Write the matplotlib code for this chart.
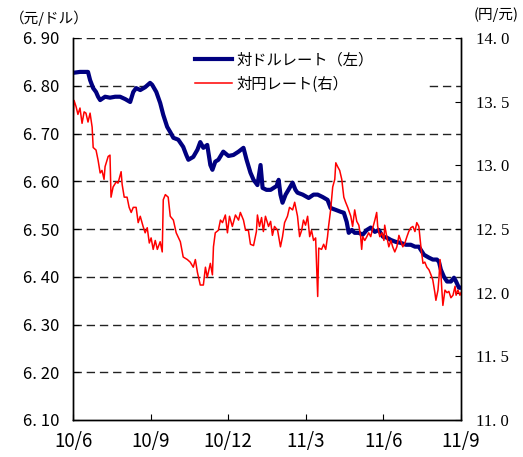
import matplotlib
matplotlib.use("Agg")
import matplotlib.pyplot as plt
from matplotlib.lines import Line2D
from matplotlib.patches import Rectangle

plt.rcParams['font.family'] = ['Noto Sans CJK JP', 'DejaVu Sans']

# x positions: months elapsed since 2010/06
tick_pos = [0, 3, 6, 9, 12, 15]
tick_labels = ["10/6", "10/9", "10/12", "11/3", "11/6", "11/9"]

usd_t = [0, 0.27, 0.58, 0.66, 0.78, 0.89, 0.97, 1.05, 1.24, 1.43, 1.63, 1.82, 2.02, 2.21,
         2.33, 2.44, 2.60, 2.79, 2.98, 3.06, 3.22, 3.37, 3.49, 3.64, 3.76, 3.88, 4.07, 4.26,
         4.38, 4.46, 4.65, 4.81, 4.92, 5.04, 5.19, 5.31, 5.39, 5.50, 5.62, 5.81, 6.01, 6.20,
         6.40, 6.59, 6.71, 6.86, 6.98, 7.13, 7.25, 7.33, 7.48, 7.64, 7.87, 7.95, 8.02, 8.10,
         8.22, 8.33, 8.49, 8.60, 8.68, 8.88, 9.11, 9.30, 9.46, 9.65, 9.84, 9.96, 10.16, 10.35,
         10.47, 10.58, 10.66, 10.78, 10.89, 11.05, 11.20, 11.36, 11.51, 11.67, 11.82, 11.98,
         12.13, 12.29, 12.48, 12.67, 12.87, 13.06, 13.22, 13.37, 13.45, 13.57, 13.76, 13.91,
         14.07, 14.15, 14.22, 14.34, 14.46, 14.61, 14.73, 14.81, 14.92, 15.0]
usd_rate = [6.827, 6.829, 6.829, 6.812, 6.795, 6.787, 6.777, 6.770, 6.777, 6.775, 6.777, 6.777,
            6.772, 6.766, 6.787, 6.795, 6.791, 6.797, 6.806, 6.802, 6.787, 6.764, 6.739, 6.714,
            6.703, 6.691, 6.687, 6.672, 6.655, 6.645, 6.651, 6.666, 6.682, 6.670, 6.676, 6.634,
            6.624, 6.641, 6.645, 6.662, 6.653, 6.655, 6.662, 6.670, 6.645, 6.618, 6.603, 6.592,
            6.634, 6.586, 6.582, 6.582, 6.590, 6.603, 6.572, 6.555, 6.572, 6.582, 6.597, 6.582,
            6.576, 6.572, 6.565, 6.572, 6.572, 6.567, 6.561, 6.544, 6.540, 6.536, 6.534, 6.515,
            6.492, 6.498, 6.492, 6.492, 6.488, 6.498, 6.503, 6.494, 6.498, 6.484, 6.482, 6.477,
            6.473, 6.471, 6.467, 6.467, 6.463, 6.463, 6.456, 6.446, 6.440, 6.436, 6.436, 6.431,
            6.415, 6.400, 6.390, 6.390, 6.398, 6.390, 6.377, 6.377]

jpy_t = [0, 0.04, 0.12, 0.19, 0.27, 0.35, 0.43, 0.50, 0.58, 0.66, 0.74, 0.78, 0.89, 0.97,
         1.05, 1.12, 1.20, 1.24, 1.36, 1.43, 1.47, 1.55, 1.67, 1.74, 1.86, 1.90, 1.98, 2.09,
         2.17, 2.25, 2.33, 2.44, 2.52, 2.60, 2.71, 2.79, 2.87, 2.95, 3.02, 3.10, 3.18, 3.26,
         3.37, 3.45, 3.49, 3.57, 3.68, 3.76, 3.88, 3.99, 4.15, 4.26, 4.42, 4.53, 4.65, 4.73,
         4.81, 4.92, 5.04, 5.12, 5.19, 5.31, 5.39, 5.43, 5.50, 5.62, 5.70, 5.78, 5.89, 5.97,
         6.05, 6.16, 6.28, 6.40, 6.47, 6.59, 6.67, 6.78, 6.86, 6.98, 7.09, 7.13, 7.21, 7.29,
         7.36, 7.44, 7.56, 7.64, 7.71, 7.79, 7.91, 8.02, 8.10, 8.18, 8.29, 8.37, 8.49, 8.57,
         8.68, 8.76, 8.84, 8.91, 8.99, 9.07, 9.15, 9.22, 9.30, 9.38, 9.46, 9.50, 9.61, 9.69,
         9.77, 9.84, 9.88, 9.96, 10.04, 10.12, 10.16, 10.23, 10.31, 10.39, 10.47, 10.54, 10.62,
         10.74, 10.81, 10.89, 10.97, 11.05, 11.12, 11.16, 11.20, 11.28, 11.36, 11.43, 11.51,
         11.59, 11.67, 11.74, 11.78, 11.86, 11.94, 12.02, 12.05, 12.13, 12.21, 12.29, 12.36,
         12.44, 12.52, 12.60, 12.67, 12.75, 12.83, 12.91, 12.98, 13.06, 13.14, 13.22, 13.29,
         13.37, 13.45, 13.53, 13.60, 13.68, 13.76, 13.84, 13.91, 13.99, 14.03, 14.11, 14.15,
         14.19, 14.26, 14.30, 14.38, 14.46, 14.53, 14.61, 14.69, 14.77, 14.81, 14.88, 14.96, 15.0]
jpy_rate = [13.34, 13.51, 13.46, 13.40, 13.45, 13.33, 13.42, 13.41, 13.34, 13.41, 13.30, 13.14,
            13.12, 13.04, 12.94, 12.96, 12.89, 12.99, 13.07, 13.08, 12.75, 12.83, 12.87, 12.86,
            12.95, 12.85, 12.75, 12.75, 12.67, 12.63, 12.67, 12.67, 12.55, 12.60, 12.52, 12.47,
            12.51, 12.39, 12.43, 12.34, 12.41, 12.34, 12.40, 12.32, 12.73, 12.77, 12.75, 12.60,
            12.57, 12.47, 12.40, 12.28, 12.26, 12.24, 12.20, 12.26, 12.16, 12.06, 12.06, 12.20,
            12.12, 12.23, 12.14, 12.36, 12.47, 12.49, 12.57, 12.55, 12.61, 12.47, 12.60, 12.52,
            12.61, 12.57, 12.63, 12.57, 12.49, 12.49, 12.38, 12.37, 12.48, 12.61, 12.52, 12.59,
            12.48, 12.60, 12.52, 12.56, 12.45, 12.52, 12.49, 12.36, 12.44, 12.55, 12.60, 12.67,
            12.65, 12.71, 12.60, 12.44, 12.49, 12.57, 12.53, 12.60, 12.44, 12.49, 12.41, 12.43,
            11.97, 12.35, 12.34, 12.38, 12.34, 12.44, 12.52, 12.65, 12.83, 12.89, 13.02, 12.99,
            12.96, 12.89, 12.75, 12.71, 12.67, 12.60, 12.52, 12.65, 12.56, 12.53, 12.44, 12.34,
            12.44, 12.41, 12.44, 12.47, 12.44, 12.51, 12.57, 12.63, 12.52, 12.44, 12.47, 12.41,
            12.53, 12.44, 12.36, 12.41, 12.36, 12.32, 12.36, 12.45, 12.41, 12.36, 12.39, 12.44,
            12.48, 12.51, 12.52, 12.48, 12.55, 12.52, 12.36, 12.23, 12.24, 12.20, 12.18, 12.14,
            12.10, 12.00, 11.94, 12.02, 12.12, 12.26, 12.02, 11.90, 12.02, 12.00, 12.01, 11.96,
            11.98, 12.05, 11.98, 12.02, 11.98, 12.00]

left_ticks = [6.10, 6.20, 6.30, 6.40, 6.50, 6.60, 6.70, 6.80, 6.90]
left_labels = ["6. 10", "6. 20", "6. 30", "6. 40", "6. 50", "6. 60", "6. 70", "6. 80", "6. 90"]
right_ticks = [11.0, 11.5, 12.0, 12.5, 13.0, 13.5, 14.0]
right_labels = ["11. 0", "11. 5", "12. 0", "12. 5", "13. 0", "13. 5", "14. 0"]

series_usd = "対ドルレート（左）"
series_jpy = "対円レート(右）"

fig = plt.figure(figsize=(5.23, 4.57), dpi=100)
ax = fig.add_axes([73/523, 1-420/457, (461-73)/523, (420-38)/457])
ax2 = ax.twinx()

ax.plot(usd_t, usd_rate, color='#000080', lw=3.0, solid_joinstyle='round', zorder=3)
ax2.plot(jpy_t, jpy_rate, color='#FF0000', lw=1.1)

ax.set_xlim(0, 15)
ax.set_ylim(6.10, 6.90)
ax2.set_ylim(11.0, 14.0)

ax.set_yticks(left_ticks)
ax.set_yticklabels(left_labels, fontsize=12)
ax2.set_yticks(right_ticks)
ax2.set_yticklabels(right_labels, fontsize=12, family=['Liberation Serif'])
ax.set_xticks(tick_pos)
ax.set_xticklabels(tick_labels, fontsize=13.5)

for y in left_ticks[1:]:
    ax.axhline(y, color='#222222', lw=1.0, linestyle=(0, (6, 3.5)), zorder=0.5)

# white legend area masking gridlines (as in the original)
ax.add_patch(Rectangle((0.211, 0.851), 0.70, 0.144, transform=ax.transAxes,
                       facecolor='white', edgecolor='none', zorder=1))

for a in (ax, ax2):
    a.spines['top'].set_visible(False)
    for s in a.spines.values():
        s.set_linewidth(1.0)
ax.tick_params(axis='y', direction='in', length=4, pad=10)
ax.tick_params(axis='x', direction='in', length=4, pad=8)
ax2.tick_params(axis='y', direction='in', length=4, pad=11)

fig.text(10/523, 1-18/457, "（元/ドル）", fontsize=10.5, ha='left', va='center')
fig.text(519/523, 1-15/457, "(円/元)", fontsize=10.5, ha='right', va='center')

handles = [Line2D([], [], color='#000080', lw=3.0), Line2D([], [], color='#FF0000', lw=1.1)]
ax2.legend(handles, [series_usd, series_jpy], loc='upper left', bbox_to_anchor=(0.28, 1.0),
           frameon=False, fontsize=11, handlelength=2.4, handletextpad=0.3, labelspacing=0.45)

fig.savefig("out.png", dpi=100)
